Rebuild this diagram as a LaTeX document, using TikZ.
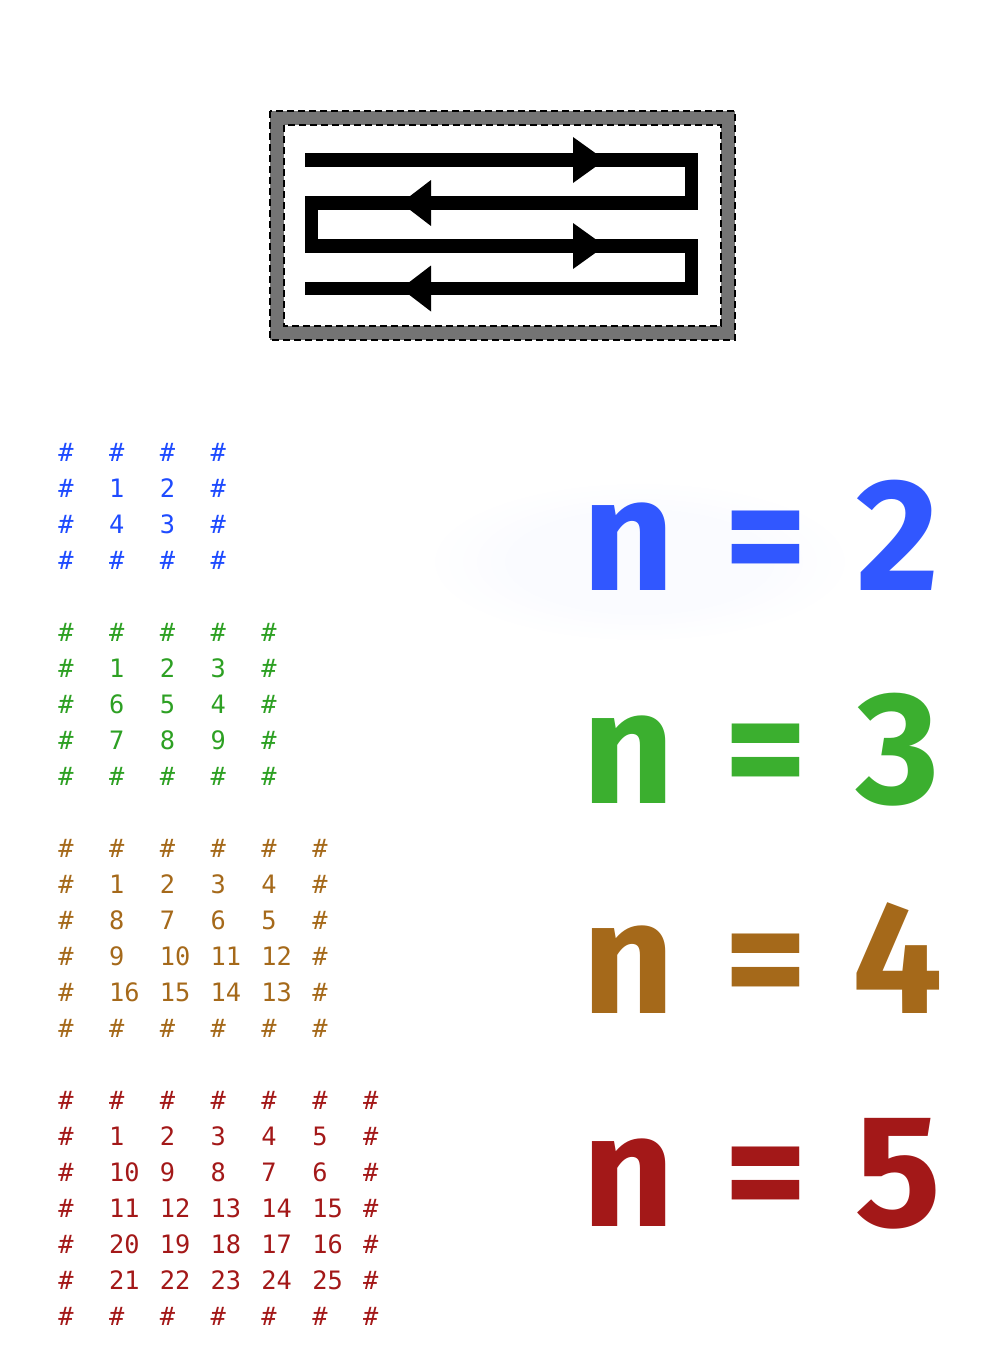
\documentclass[tikz,border=0pt]{standalone}
\usepackage{fontspec}
\setmainfont{DejaVu Sans}
\newfontfamily\gridfont{DejaVu Sans Mono}
\newfontfamily\bigfont{Fira Sans}
\definecolor{gblue}{RGB}{30,75,255}
\definecolor{ggreen}{RGB}{45,160,35}
\definecolor{gbrown}{RGB}{165,105,26}
\definecolor{gred}{RGB}{163,24,24}
\definecolor{bblue}{RGB}{49,87,255}
\definecolor{bgreen}{RGB}{59,175,47}
\definecolor{frame}{RGB}{116,116,116}

% one grid of the snake order, framed by #
\newcommand{\snakegrid}[4]{%
  \pgfmathtruncatemacro{\gridlast}{#1+1}
  \foreach \r in {0,...,\gridlast}{
    \foreach \c in {0,...,\gridlast}{
      \pgfmathtruncatemacro{\cellval}{(\r==0 || \r==\gridlast || \c==0 || \c==\gridlast) ? 0 : (mod(\r,2)==1 ? (\r-1)*#1+\c : (\r-1)*#1+#1+1-\c)}
      \ifnum\cellval=0 \def\celltxt{\#}\else \let\celltxt\cellval\fi
      \node[cell, text=#2] (#4-\r-\c) at (58+50.8*\c, #3+36*\r) {\celltxt};
    }
  }
}

\begin{document}
\begin{tikzpicture}[x=0.75pt, y=-0.75pt,
      cell/.style={anchor=west, inner sep=0pt, font=\gridfont\fontsize{19}{19}\selectfont},
      big/.style={anchor=base, inner sep=0pt, font=\bigfont\bfseries\fontsize{120}{120}\selectfont},
      edge/.style={draw=black, line width=1.9pt, dash pattern=on 5.25pt off 3pt},
      snake/.style={line width=9.8pt, line cap=butt, line join=miter}]

    \useasboundingbox (0,0) rectangle (1003,1359);

    % framed box with the snake path
    \fill[frame] (270,111) rectangle (735,340);
    \fill[white] (284,125) rectangle (721,326);
    \draw[edge] (270,111) rectangle (735,340);
    \draw[edge] (284,125) rectangle (721,326);

    \draw[snake] (305,160) -- (691.5,160) -- (691.5,203) -- (311.5,203)
      -- (311.5,246) -- (691.5,246) -- (691.5,288.5) -- (305,288.5);
    \fill (573,137) -- (605,160) -- (573,183) -- cycle;
    \fill (431,180) -- (401,203) -- (431,226) -- cycle;
    \fill (573,223) -- (605,246) -- (573,269) -- cycle;
    \fill (431,265.5) -- (401,288.5) -- (431,311.5) -- cycle;

    % grids
    \snakegrid{2}{gblue}{452}{ga}
    \snakegrid{3}{ggreen}{632}{gb}
    \snakegrid{4}{gbrown}{848}{gc}
    \snakegrid{5}{gred}{1100}{gd}

    % faint glow behind n = 2
    \foreach \k in {0,...,5}
      \fill[bblue, opacity=0.005] (640,562) ellipse [x radius=205-14*\k, y radius=78-5*\k];

    % big labels
    \node[big, text=bblue] (na) at (629,590) {n};
    \node[big, text=bblue] (ea) at (766,590) {=};
    \node[big, text=bblue] (va) at (898,590) {2};

    \node[big, text=bgreen] (nb) at (629,803) {n};
    \node[big, text=bgreen] (eb) at (766,803) {=};
    \node[big, text=bgreen] (vb) at (898,803) {3};

    \node[big, text=gbrown] (nc) at (629,1013) {n};
    \node[big, text=gbrown] (ec) at (766,1013) {=};
    \node[big, text=gbrown] (vc) at (898,1013) {4};

    \node[big, text=gred] (nd) at (629,1226) {n};
    \node[big, text=gred] (ed) at (766,1226) {=};
    \node[big, text=gred] (vd) at (898,1226) {5};
  \end{tikzpicture}
\end{document}
